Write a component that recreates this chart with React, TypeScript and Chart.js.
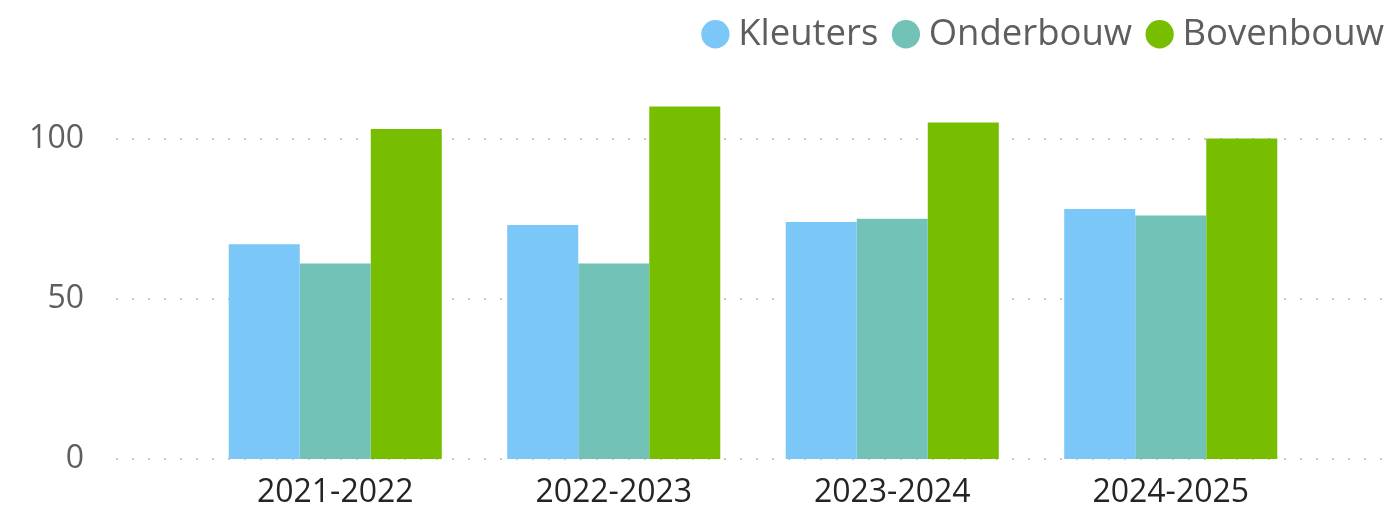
import React, { useEffect, useRef } from 'react';
import { Chart, registerables } from 'chart.js';

Chart.register(...registerables);

const categories = ['2021-2022', '2022-2023', '2023-2024', '2024-2025'];
const seriesNames = ['Kleuters', 'Onderbouw', 'Bovenbouw'];
const kleuters = [67, 73, 74, 78];
const onderbouw = [61, 61, 75, 76];
const bovenbouw = [103, 110, 105, 100];
const yTickValues = [0, 50, 100];
const seriesColors = ['#7AC7F8', '#73C2B8', '#78BE00'];

const FONT = "'Open Sans', 'Noto Sans', sans-serif";

const dottedGrid = {
  id: 'dottedGrid',
  afterLayout(chart: any) {
    const lg = chart.legend;
    if (lg) {
      lg.left += 18;
      lg.right += 18;
      lg.top -= 12;
      lg.bottom -= 12;
    }
  },
  beforeDatasetsDraw(chart: any) {
    const { ctx } = chart;
    const y = chart.scales.y;
    ctx.save();
    ctx.strokeStyle = '#C8C6C4';
    ctx.lineWidth = 2;
    ctx.setLineDash([2, 14]);
    const x0 = chart.chartArea.left - 80;
    const x1 = chart.width - 3;
    y.ticks.forEach((t: any) => {
      const py = Math.round(y.getPixelForValue(t.value));
      ctx.beginPath();
      ctx.moveTo(x0, py);
      ctx.lineTo(x1, py);
      ctx.stroke();
    });
    ctx.restore();
  },
};

export default function App() {
  const canvasRef = useRef<HTMLCanvasElement | null>(null);

  useEffect(() => {
    if (!canvasRef.current) return;
    const data = [kleuters, onderbouw, bovenbouw];
    const chart = new Chart(canvasRef.current, {
      type: 'bar',
      data: {
        labels: categories,
        datasets: seriesNames.map((name, i) => ({
          label: name,
          data: data[i],
          backgroundColor: seriesColors[i],
          borderWidth: 0,
          categoryPercentage: 0.765,
          barPercentage: 1,
        })),
      },
      plugins: [dottedGrid],
      options: {
        animation: false,
        responsive: true,
        maintainAspectRatio: false,
        layout: { padding: { top: 5, left: 0, right: 0, bottom: 0 } },
        plugins: {
          tooltip: { enabled: false },
          legend: {
            position: 'top',
            align: 'end',
            labels: {
              usePointStyle: true,
              pointStyle: 'circle',
              boxWidth: 9,
              boxHeight: 20,
              padding: 23,
              color: '#605E5C',
              font: { family: FONT, size: 36.5 },
            },
          },
        },
        scales: {
          x: {
            grid: { display: false, drawTicks: false },
            border: { display: false },
            ticks: {
              color: '#252423',
              font: { family: FONT, size: 32 },
              padding: 15,
              maxRotation: 0,
            },
            afterFit: (s: any) => {
              s.height = 51;
              s.paddingLeft = 0;
              s.paddingRight = 0;
            },
          },
          y: {
            min: 0,
            max: 120,
            grid: { display: false, drawTicks: false },
            border: { display: false },
            ticks: {
              stepSize: 50,
              color: '#605E5C',
              font: { family: FONT, size: 32 },
              padding: 112,
            },
            afterBuildTicks: (s: any) => {
              s.ticks = yTickValues.map((v) => ({ value: v }));
            },
            afterFit: (s: any) => {
              s.width = 196;
              s.paddingTop = 0;
              s.paddingBottom = 0;
            },
          },
          spacer: {
            type: 'linear',
            position: 'right',
            display: true,
            grid: { display: false, drawTicks: false },
            border: { display: false },
            ticks: { display: false },
            afterFit: (s: any) => {
              s.width = 79;
              s.paddingTop = 0;
              s.paddingBottom = 0;
            },
          },
        },
      },
    } as any);
    return () => chart.destroy();
  }, []);

  return (
    <div style={{ position: 'absolute', left: 0, top: 0, width: 1389, height: 510, background: '#fff' }}>
      <canvas ref={canvasRef} />
    </div>
  );
}
